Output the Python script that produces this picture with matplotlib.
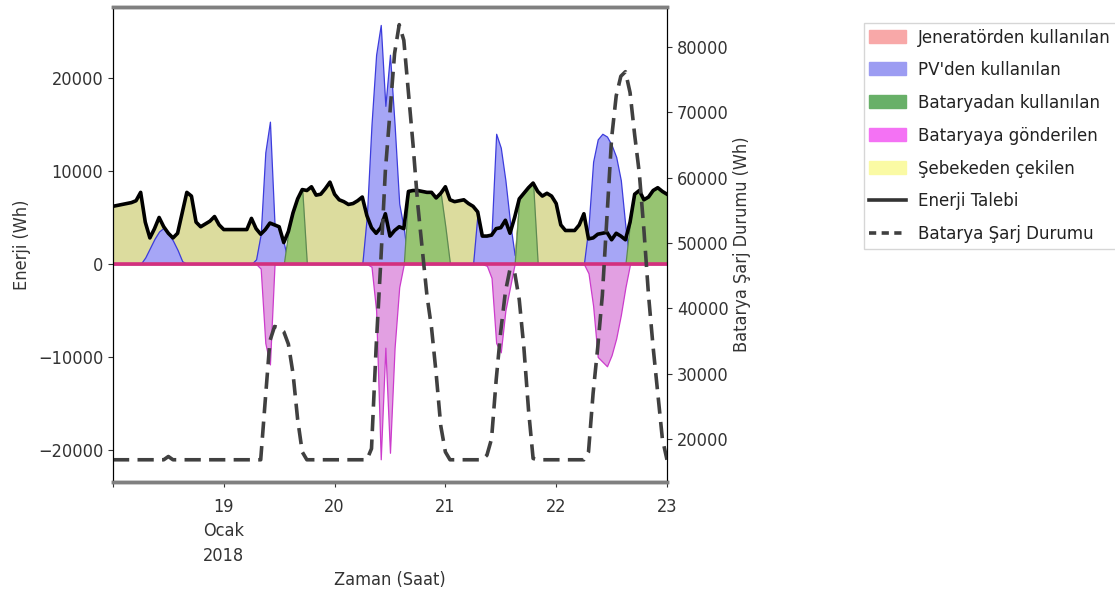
import numpy as np
import pandas as pd
import matplotlib
matplotlib.use("Agg")
import matplotlib.pyplot as plt
from matplotlib.patches import Patch
from matplotlib.lines import Line2D
from matplotlib import font_manager as fm

# choose a condensed face if one is installed (reference text is narrow)
font_family = 'DejaVu Sans'
font_stretch = 'normal'
font_size = 12
try:
    path = fm.findfont(fm.FontProperties(family='DejaVu Sans', stretch='condensed'),
                       fallback_to_default=False)
    if 'ondensed' in path:
        font_stretch = 'condensed'
        font_size = 13
    else:
        path2 = fm.findfont(fm.FontProperties(family='Liberation Sans Narrow'),
                            fallback_to_default=False)
        if 'Narrow' in path2:
            font_family = 'Liberation Sans Narrow'
            font_size = 14
except Exception:
    pass

plt.rcParams['font.family'] = [font_family, 'DejaVu Sans']
plt.rcParams['font.stretch'] = font_stretch

# hourly time axis, 18 Jan 2018 00:00 .. 23 Jan 2018 00:00
times = pd.date_range('2018-01-18 00:00', '2018-01-23 00:00', freq='h')

demand = [6200, 6300, 6400, 6500, 6600, 6800, 7700, 4500, 2800, 3800,
          5000, 4000, 3300, 2800, 3300, 5500, 7700, 7300, 4500, 4000,
          4300, 4600, 5100, 4200, 3700, 3700, 3700, 3700, 3700, 3700,
          4900, 3800, 3200, 3700, 4400, 4200, 4000, 2300, 3500, 5500,
          7000, 8000, 7900, 8300, 7400, 7500, 8100, 8800, 7500, 6900,
          6700, 6400, 6500, 6800, 7200, 5200, 3900, 3300, 3900, 5400,
          3000, 3600, 4000, 3800, 7800, 7900, 7900, 7800, 7700, 7700,
          7100, 7600, 8300, 6900, 6700, 6800, 6900, 6500, 6200, 5600,
          3000, 3000, 3100, 3800, 3900, 4700, 3300, 5000, 7000, 7600,
          8200, 8700, 7800, 7300, 7600, 7300, 6500, 4200, 3600, 3600,
          3600, 4200, 5400, 2700, 2800, 3200, 3300, 3400, 2600, 3300,
          3000, 2600, 4500, 7500, 7900, 6900, 7200, 7900, 8200, 7800,
          7500]

pv = [0, 0, 0, 0, 0, 0, 0, 700, 1700, 2700,
      3500, 3900, 3300, 2500, 1500, 300, 0, 0, 0, 0,
      0, 0, 0, 0, 0, 0, 0, 0, 0, 0,
      0, 500, 3200, 12000, 15300, 4200, 4000, 2300, 0, 0,
      0, 0, 0, 0, 0, 0, 0, 0, 0, 0,
      0, 0, 0, 0, 0, 5200, 15000, 22500, 25700, 17000,
      22500, 15000, 6500, 3800, 0, 0, 0, 0, 0, 0,
      0, 0, 0, 0, 0, 0, 0, 0, 0, 5600,
      3000, 3000, 3300, 14000, 12500, 9000, 4500, 1000, 0, 0,
      0, 0, 0, 0, 0, 0, 0, 0, 0, 0,
      0, 0, 0, 4000, 11000, 13400, 14000, 13700, 12800, 11500,
      9000, 4000, 0, 0, 0, 0, 0, 0, 0, 0,
      0]

battery_used = [0] * 37 + [0, 3500, 5500, 7000, 8000, 0] + [0] * 20 + \
    [0, 7800, 7900, 7900, 7800, 7700, 7700, 7100, 7600, 4000, 0] + [0] * 13 + \
    [0, 7000, 7600, 8200, 8700, 0] + [0] * 18 + \
    [0, 4500, 7500, 7900, 6900, 7200, 7900, 8200, 7800, 7500]

grid = [6200, 6300, 6400, 6500, 6600, 6800, 7700, 3800, 1100, 1100,
        1500, 100, 0, 300, 1800, 5200, 7700, 7300, 4500, 4000,
        4300, 4600, 5100, 4200, 3700, 3700, 3700, 3700, 3700, 3700,
        4900, 3300, 0, 0, 0, 0, 0, 0, 0, 0,
        0, 0, 7900, 8300, 7400, 7500, 8100, 8800, 7500, 6900,
        6700, 6400, 6500, 6800, 7200, 0, 0, 0, 0, 0,
        0, 0, 0, 0, 0, 0, 0, 0, 0, 0,
        0, 0, 4300, 6900, 6700, 6800, 6900, 6500, 6200, 0,
        0, 0, 0, 0, 0, 0, 0, 0, 0, 0,
        0, 0, 7800, 7300, 7600, 7300, 6500, 4200, 3600, 3600,
        3600, 4200, 5400, 0, 0, 0, 0, 0, 0, 0,
        0, 0, 0, 0, 0, 0, 0, 0, 0, 0,
        0]

generator = [0] * 121

charged = [0] * 32 + [-500, -8500, -10800, 0] + [0] * 20 + \
    [-300, -5000, -21000, -9000, -20300, -9000, -2500, 0] + [0] * 16 + \
    [0, -200, -1500, -8500, -9500, -5000, -2500, 0] + [0] * 14 + \
    [0, -1000, -4500, -10000, -10500, -11000, -9800, -8000, -5500, -2500, 0] + [0] * 8

soc = [16800] * 12 + [17300] + [16800] * 20 + \
    [26000, 35000, 37200, 37000, 36400, 34500, 30000, 23000, 18000, 16800] + \
    [16800] * 13 + \
    [18500, 34000, 47000, 61000, 70000, 79000, 83400, 81000, 73000, 65000,
     56000, 49000, 42000, 37000, 30000, 22000, 18000, 16800] + \
    [16800] * 7 + \
    [17500, 20000, 29000, 36500, 42500, 46000, 45500, 41300, 34000, 24500,
     17000, 16800] + \
    [16800] * 10 + \
    [18000, 27000, 34000, 42000, 54000, 66000, 72500, 75500, 76200, 73000,
     66500, 60700, 52000, 42000, 34000, 27000, 20000, 16800]

x_tick_labels = ['', '19\nOcak\n2018', '20', '21', '22', '23']
x_tick_dates = pd.to_datetime(['2018-01-18', '2018-01-19', '2018-01-20',
                               '2018-01-21', '2018-01-22', '2018-01-23'])
legend_labels = ["Jeneratörden kullanılan", "PV'den kullanılan", "Bataryadan kullanılan",
                 "Bataryaya gönderilen", "Şebekeden çekilen", "Enerji Talebi",
                 "Batarya Şarj Durumu"]

d = np.array(demand, float)
p = np.array(pv, float)
b = np.array(battery_used, float)
g = np.array(grid, float)
gen = np.array(generator, float)
c = np.array(charged, float)
s = np.array(soc, float)

fig = plt.figure(figsize=(11.15, 6.03), dpi=100)
ax = fig.add_axes([0.1013, 0.2007, 0.4969, 0.7877])

base = np.minimum(p, d) + b
ax.fill_between(times, base, base + g, facecolor='#dcdc9e', edgecolor='#c8c880', lw=0.6)
ax.fill_between(times, 0, p, facecolor='#a6a6f6', edgecolor='#3c3cdc', lw=0.9)
ax.fill_between(times, 0, b, facecolor='#97c472', edgecolor='#5e8a52', lw=0.9)
ax.fill_between(times, 0, gen, facecolor='#f8a0a0', edgecolor='#e06060', lw=0.9)
ax.fill_between(times, 0, c, facecolor='#e2a0e2', edgecolor='#cc3ccc', lw=0.9)
ax.plot(times, gen, color='#d3307e', lw=2.6)
ax.plot(times, d, color='black', lw=2.6)

ax.set_xlim(times[0], times[-1])
ax.set_ylim(-23440, 27630)
ax.set_yticks([-20000, -10000, 0, 10000, 20000])
ax.set_ylabel('Enerji (Wh)', fontsize=font_size, color='#333333', labelpad=5)
ax.set_xlabel('Zaman (Saat)', fontsize=font_size, color='#333333', labelpad=5)
ax.set_xticks(x_tick_dates)
ax.set_xticklabels(x_tick_labels, linespacing=1.45)
ax.tick_params(axis='both', labelsize=font_size, colors='#333333')
ax.tick_params(axis='x', pad=8)

ax2 = ax.twinx()
ax2.plot(times, s, color='#404040', lw=2.6, ls=(0, (4.5, 2.3)))
ax2.set_ylim(13400, 86100)
ax2.set_yticks([20000, 30000, 40000, 50000, 60000, 70000, 80000])
ax2.set_ylabel('Batarya Şarj Durumu (Wh)', fontsize=font_size, color='#333333', labelpad=3)
ax2.tick_params(axis='y', labelsize=font_size, colors='#333333')
ax2.set_xlim(times[0], times[-1])

for a in (ax, ax2):
    a.spines['top'].set_color('#808080')
    a.spines['top'].set_linewidth(2.5)
    a.spines['bottom'].set_color('#808080')
    a.spines['bottom'].set_linewidth(2.5)
    a.spines['left'].set_color('black')
    a.spines['right'].set_color('black')

handles = [Patch(facecolor='#f8a8a8', edgecolor='#f8a8a8'),
           Patch(facecolor='#9c9cf2', edgecolor='#9c9cf2'),
           Patch(facecolor='#68b068', edgecolor='#68b068'),
           Patch(facecolor='#f472f4', edgecolor='#f472f4'),
           Patch(facecolor='#fafaa4', edgecolor='#fafaa4'),
           Line2D([], [], color='#333333', lw=2.6),
           Line2D([], [], color='#404040', lw=2.6, ls=(0, (2, 1.5)))]
leg = fig.legend(handles, legend_labels, loc='upper left',
                 bbox_to_anchor=(0.7695, 0.971), fontsize=font_size + 0.3, frameon=True,
                 fancybox=False, edgecolor='#cccccc', handlelength=2.0,
                 handletextpad=0.65, labelspacing=0.8, borderpad=0.3,
                 borderaxespad=0.3)
for t in leg.get_texts():
    t.set_color('#222222')

fig.savefig('out.png', dpi=100)
